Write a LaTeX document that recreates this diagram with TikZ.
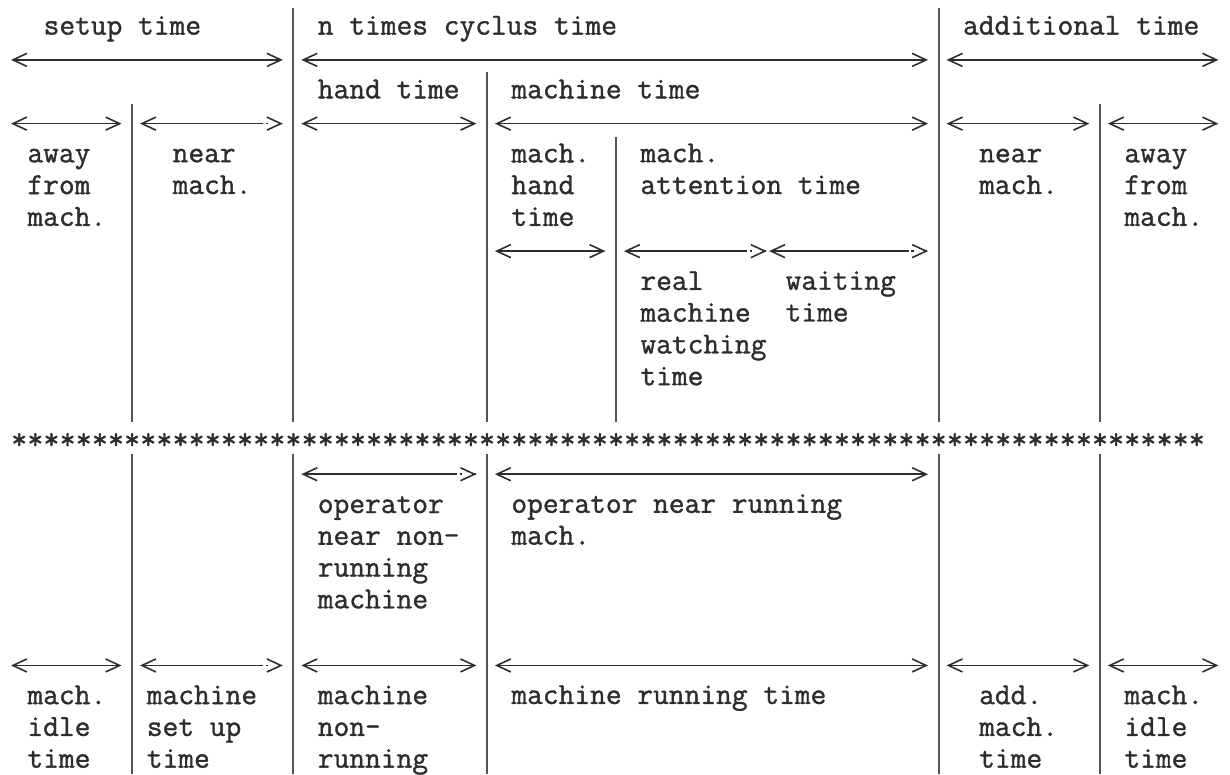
\documentclass[tikz,border=0pt]{standalone}
\usepackage{fontspec}
\newfontfamily\typewr[FakeBold=1.2]{Latin Modern Mono}
\usepackage{tikz}
\usetikzlibrary{arrows.meta}
\definecolor{ink}{RGB}{45,45,45}
\definecolor{rulegray}{RGB}{85,85,85}
\tikzset{
  txt/.style={anchor=base west, inner sep=0pt, align=left, text=ink, font=\fontsize{17.4}{18.07}\selectfont\typewr},
  sep/.style={draw=rulegray, line width=1.1pt},
  barb/.tip={Straight Barb[length=2.8mm, width=2.6mm, line width=0.9pt]},
  arr/.style={draw=ink, line width=0.9pt, barb-barb},
  arrl/.style={draw=ink, line width=0.9pt, barb-},
  arrr/.style={draw=ink, line width=0.9pt, -barb},
  dot/.style={draw=ink, line width=0.9pt},
}
% row, first column, last column
\newcommand{\durarrow}[3]{\draw[arr] (#2,#1) -- (#3+0.85,#1);}
\newcommand{\durdash}[3]{%
  \draw[arrl] (#2,#1) -- (#3-0.35,#1);
  \draw[dot] (#3-0.18,#1) -- (#3-0.04,#1);
  \draw[arrr] (#3+0.8,#1) -- (#3+0.85,#1);}

\begin{document}
\begin{tikzpicture}[x=0.3226cm, y=-0.6374cm]
  \useasboundingbox (-0.682,-0.879) rectangle (75.57,23.41);

  % separators, upper half
  \foreach \c in {17,57} \draw[sep] (\c+0.5,-0.628) -- (\c+0.5,12.36);
  \draw[sep] (29.5,1.38) -- (29.5,12.36);
  \foreach \c in {7,67} \draw[sep] (\c+0.5,2.385) -- (\c+0.5,12.36);
  \draw[sep] (37.5,3.42) -- (37.5,12.36);
  % separators, lower half
  \foreach \c in {7,17,29,57,67} \draw[sep] (\c+0.5,13.37) -- (\c+0.5,23.41);

  % headings (multi-line texts sit on the baseline of their last line)
  \node[txt] (setup) at (2,0.207) {setup time};
  \node[txt] (cycle) at (19,0.207) {n times cyclus time};
  \node[txt] (addtime) at (59,0.207) {additional time};
  \durarrow{1}{0}{16}
  \durarrow{1}{18}{56}
  \durarrow{1}{58}{74}

  \node[txt] (hand) at (19,2.207) {hand time};
  \node[txt] (mtime) at (31,2.207) {machine time};
  \durarrow{3}{0}{6}
  \durdash{3}{8}{16}
  \durarrow{3}{18}{28}
  \durarrow{3}{30}{56}
  \durarrow{3}{58}{66}
  \durarrow{3}{68}{74}

  \node[txt] (awayl) at (1,6.207) {away\\from\\mach.};
  \node[txt] (nearl) at (10,5.207) {near\\mach.};
  \node[txt] (mhand) at (31,6.207) {mach.\\hand\\time};
  \node[txt] (attn) at (39,5.207) {mach.\\attention time};
  \node[txt] (nearr) at (60,5.207) {near\\mach.};
  \node[txt] (awayr) at (69,6.207) {away\\from\\mach.};

  \durarrow{7}{30}{36}
  \durdash{7}{38}{46}
  \durdash{7}{47}{56}
  \node[txt] (watch) at (39,11.207) {real\\machine\\watching\\time};
  \node[txt] (wait) at (48,9.207) {waiting\\time};

  % star row
  \foreach \c in {0,...,73} \node[txt] (s\c) at (\c,13.207) {*};

  % lower half
  \durdash{14}{18}{28}
  \durarrow{14}{30}{56}
  \node[txt] (opnon) at (19,18.207) {operator\\near non-\\running\\machine};
  \node[txt] (oprun) at (31,16.207) {operator near running\\mach.};

  \durarrow{20}{0}{6}
  \durdash{20}{8}{16}
  \durarrow{20}{18}{28}
  \durarrow{20}{30}{56}
  \durarrow{20}{58}{66}
  \durarrow{20}{68}{74}
  \node[txt] (idlel) at (1,23.207) {mach.\\idle\\time};
  \node[txt] (setupm) at (8.4,23.207) {machine\\set up\\time};
  \node[txt] (nonrun) at (19,23.207) {machine\\non-\\running};
  \node[txt] (runtime) at (31,21.207) {machine running time};
  \node[txt] (addm) at (60,23.207) {add.\\mach.\\time};
  \node[txt] (idler) at (69,23.207) {mach.\\idle\\time};
\end{tikzpicture}
\end{document}
